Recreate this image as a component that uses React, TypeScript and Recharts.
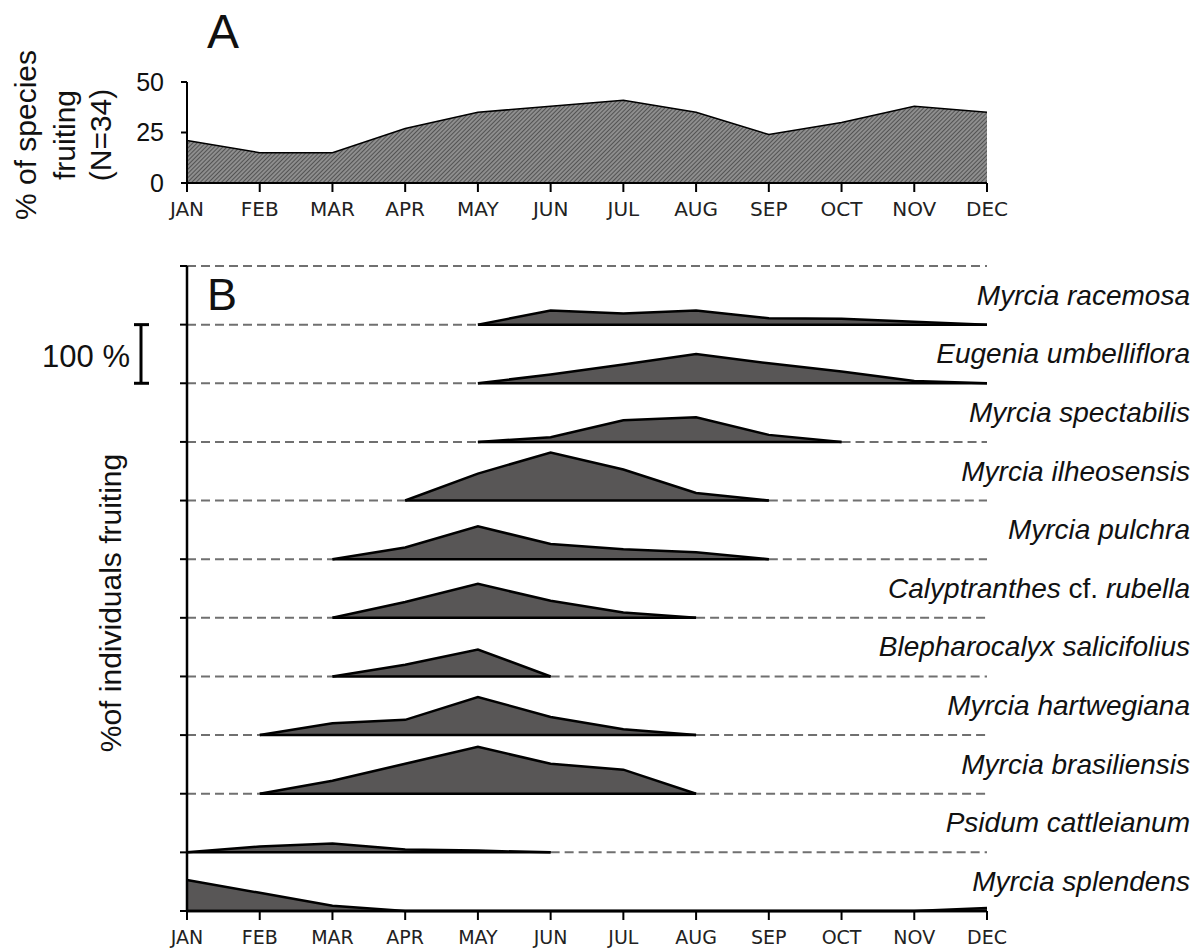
import React from 'react'
import {
  ComposedChart,
  Area,
  Line,
  XAxis,
  YAxis,
  ReferenceLine,
} from 'recharts'

// month categories shared by both panels
const months = ['JAN', 'FEB', 'MAR', 'APR', 'MAY', 'JUN', 'JUL', 'AUG', 'SEP', 'OCT', 'NOV', 'DEC']

// panel A: % of species fruiting (N=34)
const speciesFruitingPct = [21, 15, 15, 27, 35, 38, 41, 35, 24, 30, 38, 35]
const panelATicks = [0, 25, 50]

// panel B: % of individuals fruiting per species (null = not fruiting)
type V = number | null
const _ = null
const myrciaRacemosa: V[] = [_, _, _, _, 0, 24, 19, 24, 11, 10, 5, 0]
const eugeniaUmbelliflora: V[] = [_, _, _, _, 0, 15, 32, 50, 34, 20, 4, 0]
const myrciaSpectabilis: V[] = [_, _, _, _, 0, 8, 37, 42, 12, 0, _, _]
const myrciaIlheosensis: V[] = [_, _, _, 0, 46, 82, 53, 13, 0, _, _, _]
const myrciaPulchra: V[] = [_, _, 0, 20, 56, 26, 17, 12, 0, _, _, _]
const calyptranthesRubella: V[] = [_, _, 0, 27, 58, 29, 9, 0, _, _, _, _]
const blepharocalyxSalicifolius: V[] = [_, _, 0, 20, 46, 0, _, _, _, _, _, _]
const myrciaHartwegiana: V[] = [_, 0, 20, 26, 65, 31, 10, 0, _, _, _, _]
const myrciaBrasiliensis: V[] = [_, 0, 22, 51, 80, 51, 41, 0, _, _, _, _]
const psidumCattleianum: V[] = [0, 10, 15, 5, 3, 0, _, _, _, _, _, _]
const myrciaSplendens: V[] = [53, 31, 9, 0, 0, 0, 0, 0, 0, 0, 0, 5]

const species = [
  { name: 'Myrcia racemosa', values: myrciaRacemosa },
  { name: 'Eugenia umbelliflora', values: eugeniaUmbelliflora },
  { name: 'Myrcia spectabilis', values: myrciaSpectabilis },
  { name: 'Myrcia ilheosensis', values: myrciaIlheosensis },
  { name: 'Myrcia pulchra', values: myrciaPulchra },
  { name: 'Calyptranthes cf. rubella', values: calyptranthesRubella },
  { name: 'Blepharocalyx salicifolius', values: blepharocalyxSalicifolius },
  { name: 'Myrcia hartwegiana', values: myrciaHartwegiana },
  { name: 'Myrcia brasiliensis', values: myrciaBrasiliensis },
  { name: 'Psidum cattleianum', values: psidumCattleianum },
  { name: 'Myrcia splendens', values: myrciaSplendens },
]

const bands = species.length
const bandTicks = Array.from({ length: bands + 1 }, (_, k) => k)

const rowsA = months.map((month, m) => ({ month, pct: speciesFruitingPct[m] }))

const rowsB = months.map((month, m) => {
  const row: Record<string, any> = { month }
  species.forEach((s, i) => {
    const base = bands - 1 - i
    const v = s.values[m]
    row[`area${i}`] = v == null ? null : [base, base + v / 100]
    row[`top${i}`] = v == null ? null : base + v / 100
    row[`base${i}`] = v == null ? null : base
    // dashed guide where the species is absent (bottom band sits on the axis)
    row[`dash${i}`] = base > 0 && (v == null || v === 0) ? base : null
  })
  return row
})

const SANS = 'Liberation Sans, Arial, sans-serif'
const TICK_FONT = 'DejaVu Sans, Verdana, sans-serif'

const speciesLabel = (name: string) => (props: any) => {
  const vb = props.viewBox || {}
  const x = vb.x + vb.width + 203
  const y = vb.y - 20
  const parts = name.split(' cf. ')
  return (
    <text x={x} y={y} textAnchor="end" fontSize={28} fontFamily={SANS} fill="#111">
      {parts.length > 1 ? (
        <>
          <tspan fontStyle="italic">{parts[0]}</tspan>
          <tspan> cf. </tspan>
          <tspan fontStyle="italic">{parts[1]}</tspan>
        </>
      ) : (
        <tspan fontStyle="italic">{name}</tspan>
      )}
    </text>
  )
}

export default function App() {
  const plotTop = 266
  const plotBottom = 911
  const band = (plotBottom - plotTop) / bands

  return (
    <div style={{ position: 'absolute', left: 0, top: 0, width: 1195, height: 952, background: '#fff', overflow: 'hidden' }}>
      <div style={{ position: 'absolute', left: 0, top: 0 }}>
        <ComposedChart
          width={1195}
          height={240}
          data={rowsA}
          margin={{ top: 82, right: 208, bottom: 0, left: 0 }}
        >
          <defs>
            <pattern id="hatch" width="3" height="3" patternUnits="userSpaceOnUse" patternTransform="rotate(45)">
              <rect width="3" height="3" fill="#8e8e8e" />
              <line x1="0" y1="0" x2="0" y2="3" stroke="#2a2a2a" strokeWidth="1.2" />
            </pattern>
          </defs>
          <XAxis
            dataKey="month"
            type="category"
            scale="point"
            padding={{ left: 0, right: 0 }}
            interval={0}
            height={57}
            tickSize={9}
            tickMargin={10}
            axisLine={{ stroke: '#000', strokeWidth: 2 }}
            tickLine={{ stroke: '#000', strokeWidth: 2 }}
            tick={{ fontSize: 20, fontFamily: TICK_FONT, fill: '#222' }}
          />
          <YAxis
            type="number"
            domain={[0, 50]}
            ticks={panelATicks}
            width={187}
            tickSize={6}
            tickMargin={17}
            axisLine={{ stroke: '#000', strokeWidth: 2 }}
            tickLine={{ stroke: '#000', strokeWidth: 2 }}
            tick={{ fontSize: 25, fontFamily: SANS, fill: '#111' }}
          />
          <Area
            type="linear"
            dataKey="pct"
            fill="url(#hatch)"
            fillOpacity={1}
            stroke="#000"
            strokeWidth={1.5}
            dot={false}
            activeDot={false}
            isAnimationActive={false}
          />
        </ComposedChart>
      </div>

      <div style={{ position: 'absolute', left: 0, top: 240 }}>
        <ComposedChart
          width={1195}
          height={712}
          data={rowsB}
          margin={{ top: 26, right: 208, bottom: 0, left: 0 }}
        >
          <XAxis
            dataKey="month"
            type="category"
            scale="point"
            padding={{ left: 0, right: 0 }}
            interval={0}
            height={41}
            tickSize={9}
            tickMargin={11}
            axisLine={{ stroke: '#000', strokeWidth: 2.5 }}
            tickLine={{ stroke: '#000', strokeWidth: 2 }}
            tick={{ fontSize: 19, fontFamily: TICK_FONT, fill: '#222' }}
          />
          <YAxis
            type="number"
            domain={[0, bands]}
            ticks={bandTicks}
            width={187}
            tickSize={7}
            tickFormatter={() => ''}
            axisLine={{ stroke: '#000', strokeWidth: 2.5 }}
            tickLine={{ stroke: '#000', strokeWidth: 2 }}
          />
          <ReferenceLine y={bands} stroke="#707070" strokeWidth={2} strokeDasharray="9 5" />
          {species.map((s, i) => (
            <ReferenceLine
              key={`lbl${i}`}
              y={bands - 1 - i}
              stroke="none"
              label={speciesLabel(s.name)}
            />
          ))}
          {species.map((s, i) => (
            <Area
              key={`area${i}`}
              type="linear"
              dataKey={`area${i}`}
              fill="#585656"
              fillOpacity={1}
              stroke="none"
              dot={false}
              activeDot={false}
              isAnimationActive={false}
            />
          ))}
          {species.map((s, i) => (
            <Line
              key={`dash${i}`}
              type="linear"
              dataKey={`dash${i}`}
              stroke="#707070"
              strokeWidth={2}
              strokeDasharray="9 5"
              dot={false}
              activeDot={false}
              isAnimationActive={false}
            />
          ))}
          {species.map((s, i) => (
            <Line
              key={`base${i}`}
              type="linear"
              dataKey={`base${i}`}
              stroke="#000"
              strokeWidth={2.5}
              dot={false}
              activeDot={false}
              isAnimationActive={false}
            />
          ))}
          {species.map((s, i) => (
            <Line
              key={`top${i}`}
              type="linear"
              dataKey={`top${i}`}
              stroke="#000"
              strokeWidth={2.5}
              dot={false}
              activeDot={false}
              isAnimationActive={false}
            />
          ))}
        </ComposedChart>
      </div>

      <svg
        width={1195}
        height={952}
        style={{ position: 'absolute', left: 0, top: 0, pointerEvents: 'none' }}
        fontFamily={SANS}
        fill="#111"
      >
        <text x={223} y={48} fontSize={48} textAnchor="middle">A</text>
        <text transform="translate(36,135) rotate(-90)" fontSize={30} textAnchor="middle">% of species</text>
        <text transform="translate(75,135) rotate(-90)" fontSize={30} textAnchor="middle">fruiting</text>
        <text transform="translate(111,135) rotate(-90)" fontSize={30} textAnchor="middle">(N=34)</text>

        <text x={207} y={310} fontSize={45}>B</text>
        <text transform="translate(121,603) rotate(-90)" fontSize={30} textAnchor="middle">%of individuals fruiting</text>

        <text x={130} y={367} fontSize={31} textAnchor="end">100 %</text>
        <g stroke="#000" strokeWidth={3}>
          <line x1={141} x2={141} y1={plotTop + band} y2={plotTop + 2 * band} />
          <line x1={134} x2={149} y1={plotTop + band} y2={plotTop + band} />
          <line x1={134} x2={149} y1={plotTop + 2 * band} y2={plotTop + 2 * band} />
        </g>
      </svg>
    </div>
  )
}
